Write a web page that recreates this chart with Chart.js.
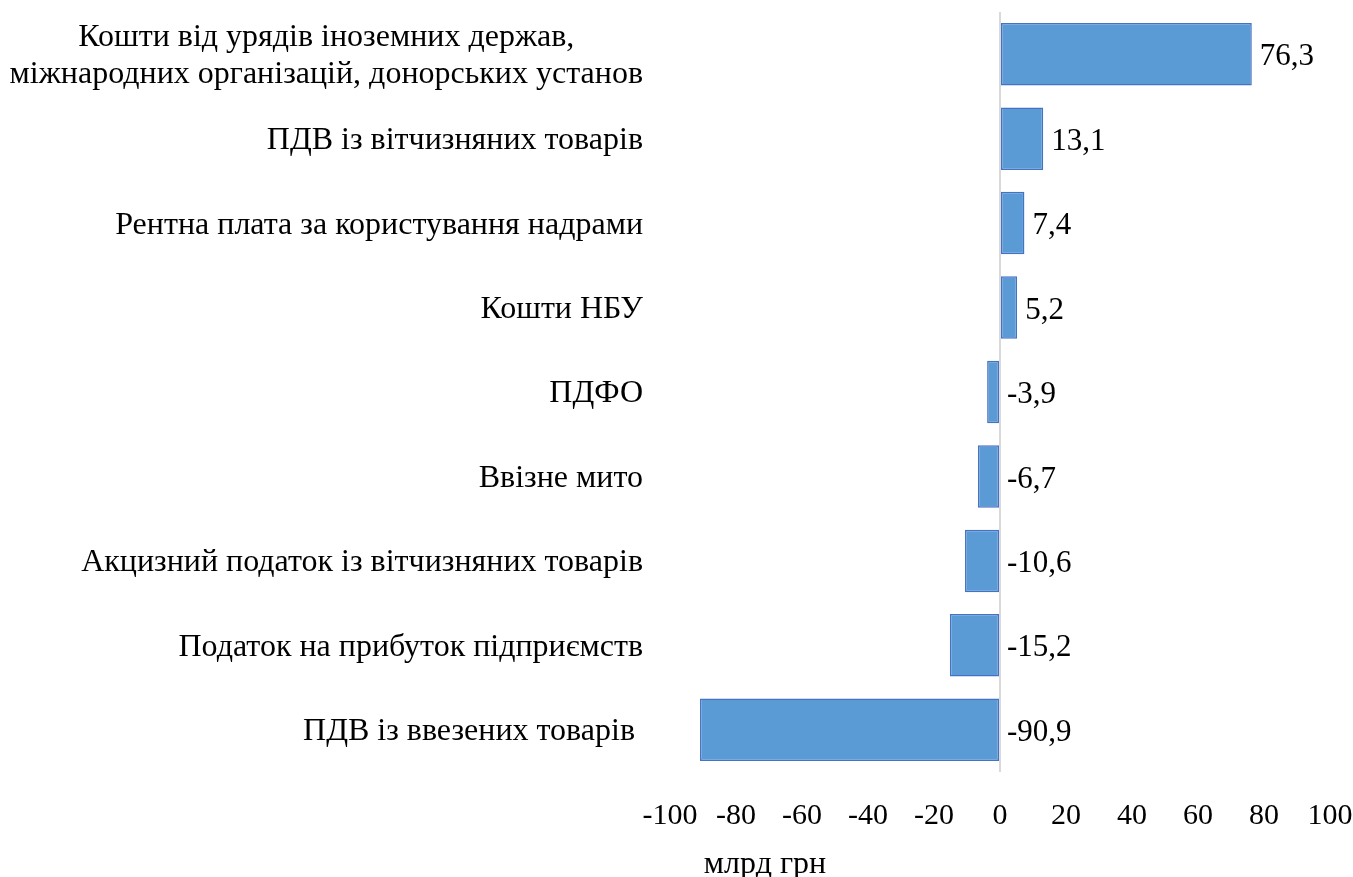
<!DOCTYPE html>
<html>
<head>
<meta charset="utf-8">
<script src="https://cdn.jsdelivr.net/npm/chart.js@4.4.1/dist/chart.umd.min.js"></script>
<style>
  html,body{margin:0;padding:0;background:#fff;}
  #wrap{width:1353px;height:877px;position:relative;}
</style>
</head>
<body>
<div id="wrap"><canvas id="c"></canvas></div>
<script>
// категорії (зверху вниз) і значення, млрд грн
const CATS=[
  ['Кошти від урядів іноземних держав,','міжнародних організацій, донорських установ'],
  'ПДВ із вітчизняних товарів',
  'Рентна плата за користування надрами',
  'Кошти НБУ',
  'ПДФО',
  'Ввізне мито',
  'Акцизний податок із вітчизняних товарів',
  'Податок на прибуток підприємств',
  'ПДВ із ввезених товарів ',
];
const VALUES=[76.3,13.1,7.4,5.2,-3.9,-6.7,-10.6,-15.2,-90.9];
const X_MIN=-100, X_MAX=100, X_STEP=20;
const AXIS_TITLE='млрд грн';

const FONT='"Liberation Serif","Times New Roman",serif';
const fmt=v=>v.toFixed(1).replace('.',',');

// підписи категорій: багаторядкові центруються між собою, блок вирівняно праворуч
const catLabels={id:'catLabels',afterDraw(ch){
  const c=ch.ctx, ys=ch.scales.y, right=ch.chartArea.left-27, lh=37;
  c.save();c.font=`32px ${FONT}`;c.fillStyle='#000';c.textBaseline='middle';c.textAlign='center';
  CATS.forEach((lab,i)=>{
    const lines=Array.isArray(lab)?lab:[lab];
    const w=Math.max(...lines.map(l=>c.measureText(l).width));
    const y0=ys.getPixelForValue(i)-(lines.length-1)*lh/2+2;
    lines.forEach((l,k)=>c.fillText(l,right-w/2,y0+k*lh));
  });
  // назва осі
  c.fillText(AXIS_TITLE,ch.chartArea.left+95,865);
  c.restore();
}};

// значення біля стовпців
const valLabels={id:'valLabels',afterDatasetsDraw(ch){
  const c=ch.ctx;
  c.save();c.font=`31px ${FONT}`;c.fillStyle='#000';c.textBaseline='middle';c.textAlign='left';
  ch.getDatasetMeta(0).data.forEach((el,i)=>{
    c.fillText(fmt(VALUES[i]),Math.max(el.x,el.base)+8,el.y+3);
  });
  c.restore();
}};

new Chart(document.getElementById('c'),{type:'bar',
  data:{labels:CATS,datasets:[{data:VALUES,backgroundColor:'#5B9BD5',borderColor:'#4472C4',borderWidth:1.5,borderSkipped:false,
    barPercentage:0.74,categoryPercentage:1}]},
  options:{indexAxis:'y',responsive:true,maintainAspectRatio:false,animation:false,
    layout:{padding:{top:12,right:0,left:0,bottom:0}},
    plugins:{legend:{display:false},tooltip:{enabled:false}},
    scales:{
      x:{min:X_MIN,max:X_MAX,
        ticks:{stepSize:X_STEP,color:'#000',font:{family:FONT,size:30},padding:26,callback:v=>String(v),maxRotation:0},
        grid:{drawTicks:false,lineWidth:2,color:c=>c.tick&&c.tick.value===0?'#d9d9d9':'transparent'},
        border:{display:false},
        afterFit:s=>{s.height=105;s.paddingRight=23;s.paddingLeft=0;}},
      y:{ticks:{display:false},grid:{display:false},border:{display:false},
        afterFit:s=>{s.width=670;}}
    }},
  plugins:[valLabels,catLabels]});
</script>
</body>
</html>
